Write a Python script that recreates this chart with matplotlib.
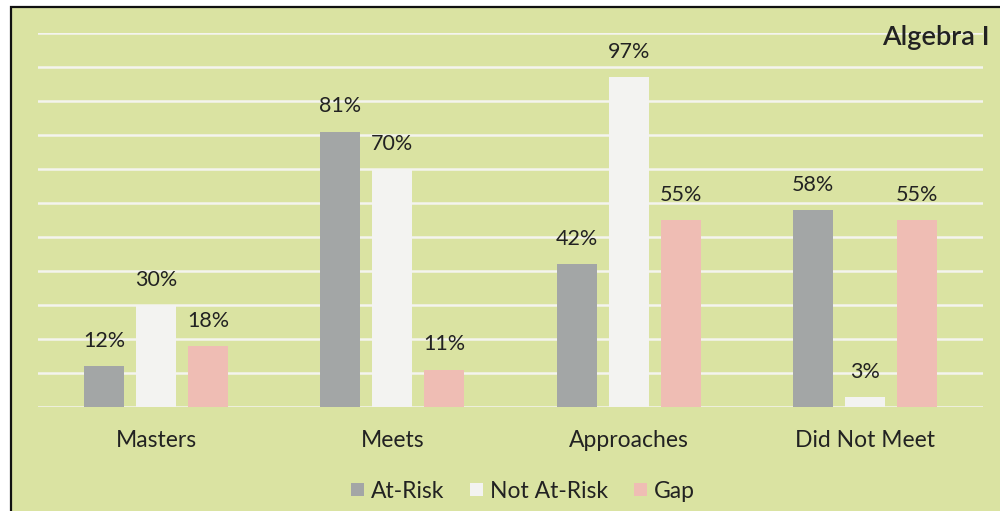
import matplotlib.pyplot as plt
from matplotlib.patches import Rectangle
import numpy as np

plt.rcParams['font.family'] = ['Lato', 'DejaVu Sans']

categories = ['Masters', 'Meets', 'Approaches', 'Did Not Meet']
series = ['At-Risk', 'Not At-Risk', 'Gap']
at_risk = [12, 81, 42, 58]
not_at_risk = [30, 70, 97, 3]
gap = [18, 11, 55, 55]

bg = '#dae3a2'
colors = ['#a3a6a6', '#f3f3f1', '#efbdb4']
txt = '#222222'

fig = plt.figure(figsize=(10, 5.11), dpi=100, facecolor='white')
fig.patches.append(Rectangle((0.011, -0.01), 1.0, 0.997, transform=fig.transFigure,
                             facecolor=bg, edgecolor='#111111', lw=1.6, zorder=-1))

ax = fig.add_axes([0.038, 0.2035, 0.945, 0.732])
ax.set_facecolor('none')

x = np.arange(len(categories))
w = 0.17
off = 0.22
for i, (vals, c, lab) in enumerate(zip([at_risk, not_at_risk, gap], colors, series)):
    bars = ax.bar(x + (i - 1) * off, vals, width=w, color=c, label=lab, zorder=3)
    ax.bar_label(bars, labels=[f'{v}%' for v in vals], padding=11,
                 fontsize=15.5, color=txt)

ax.set_xlim(-0.5, 3.5)
ax.set_ylim(0, 110)
ax.set_yticks(np.arange(0, 111, 10))
ax.yaxis.grid(True, color='#f4f4ee', lw=1.8, zorder=0)
ax.tick_params(axis='y', left=False, labelleft=False)
ax.tick_params(axis='x', bottom=False, pad=13, labelsize=16.5, labelcolor=txt)
ax.set_xticks(x)
ax.set_xticklabels(categories)
for s in ax.spines.values():
    s.set_visible(False)

fig.text(0.99, 0.927, 'Algebra I', ha='right', va='center', fontsize=19.5,
         fontweight='semibold', color=txt)

fig.legend(loc='center', bbox_to_anchor=(0.523, 0.039), ncol=3, frameon=False,
           fontsize=16.5, handlelength=0.55, handleheight=0.55, handletextpad=0.3,
           columnspacing=1.15, labelcolor=txt)

fig.savefig('out.png', dpi=100, facecolor=fig.get_facecolor())
